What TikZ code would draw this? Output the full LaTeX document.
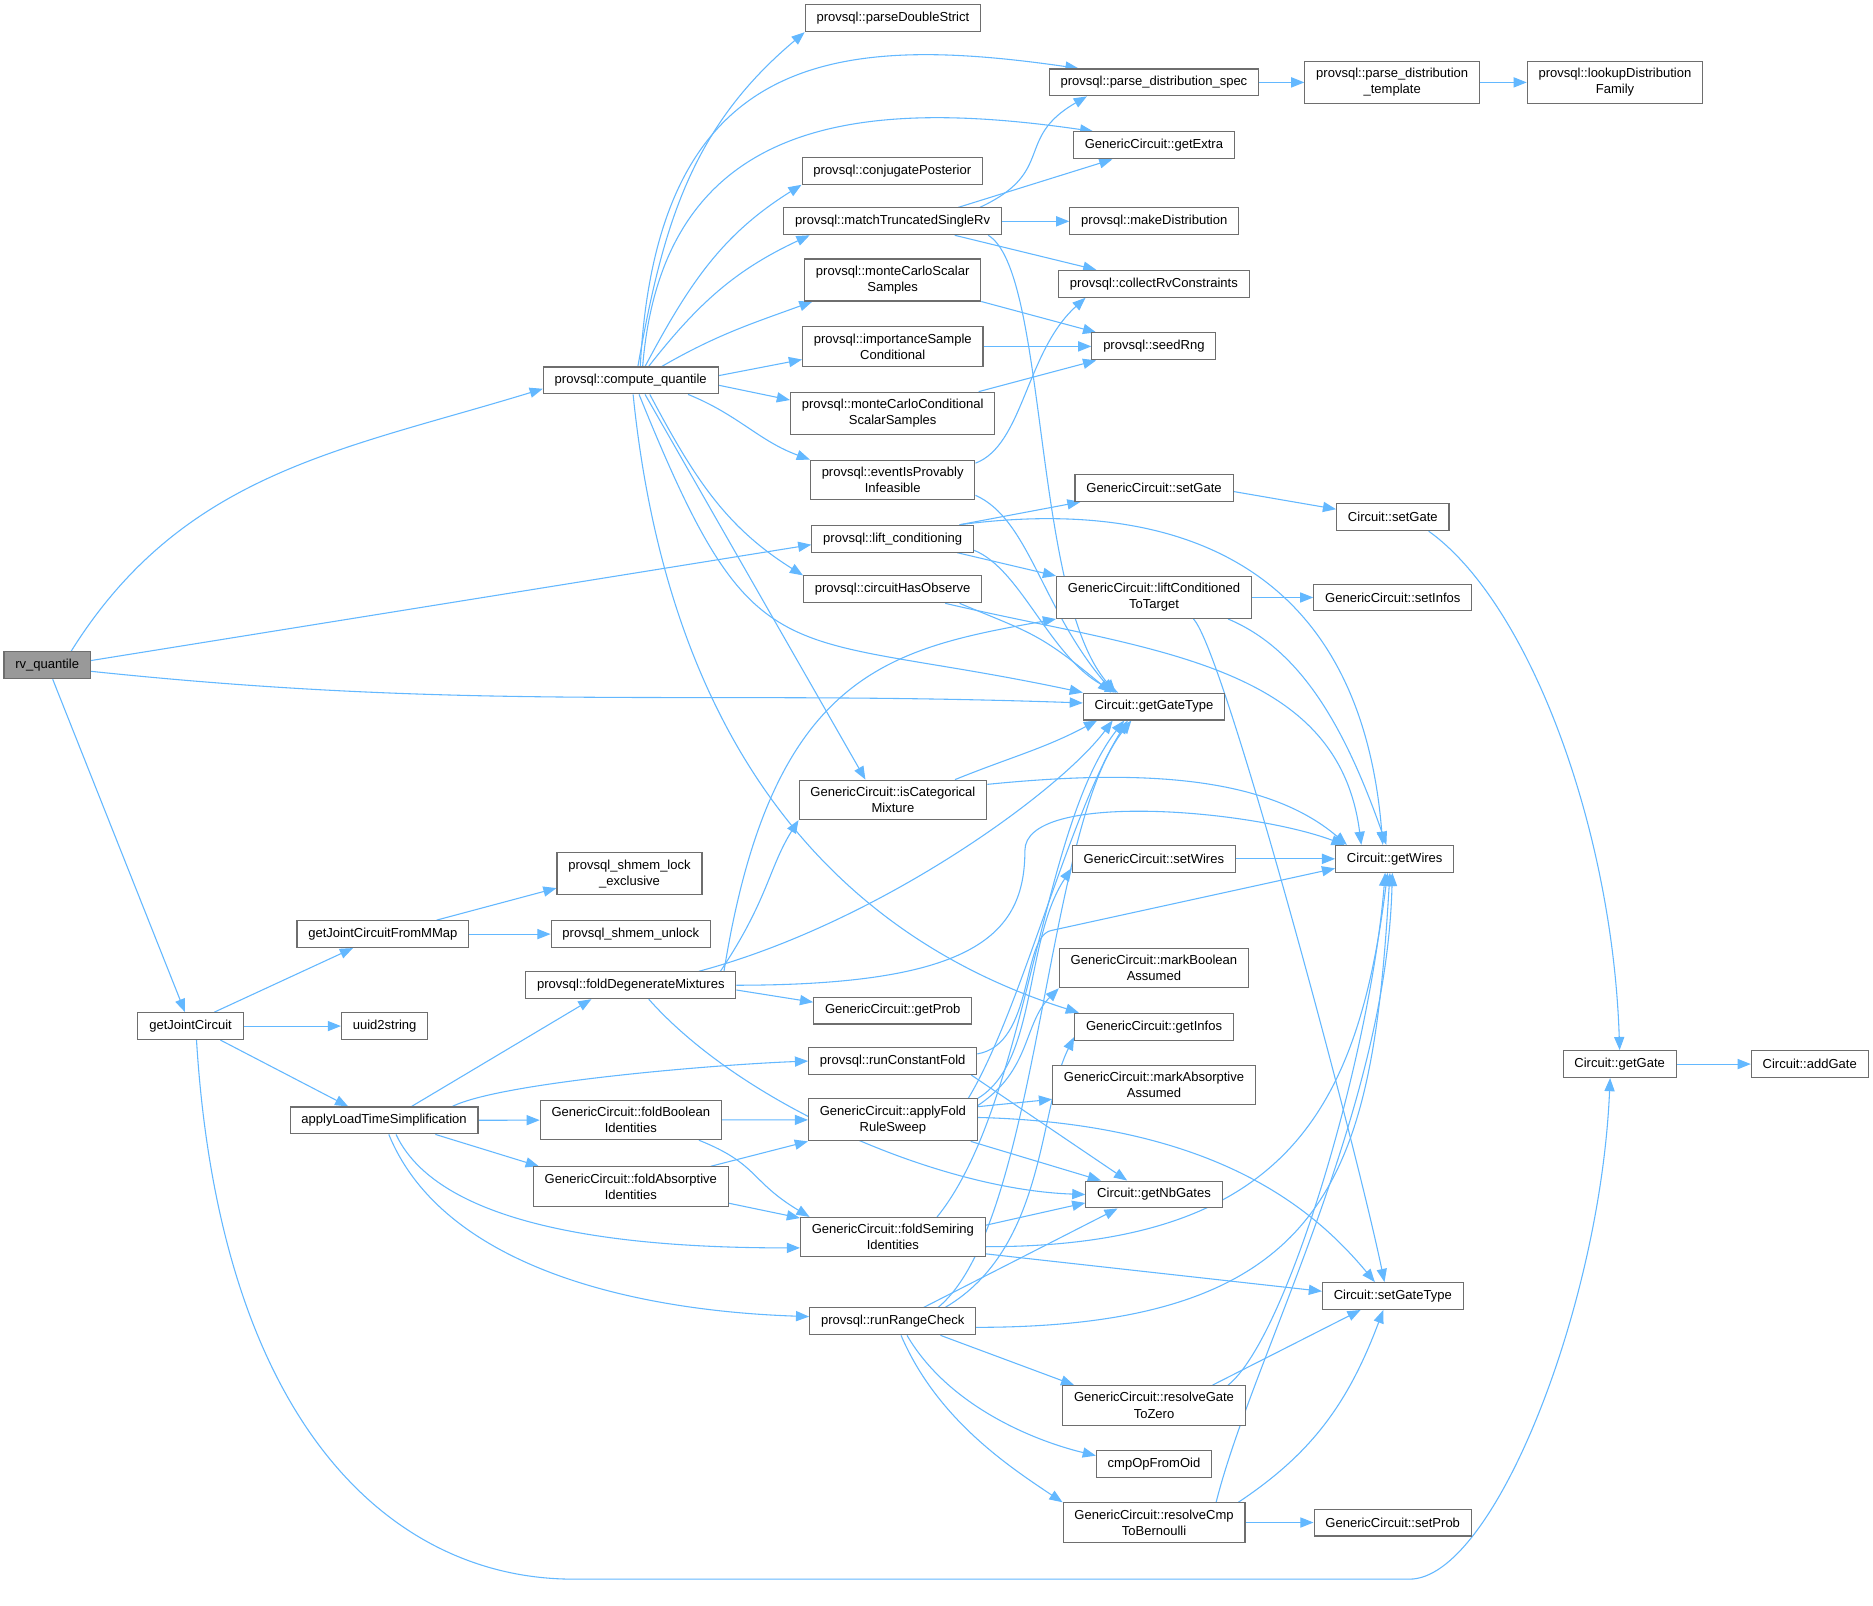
\documentclass[tikz,border=0pt]{standalone}
\usepackage{fontspec}
\setmainfont{Liberation Sans}
\usepackage{tikz}
\usetikzlibrary{arrows.meta}
\pgfdeclarelayer{bg}
\pgfsetlayers{bg,main}

\begin{document}
\begin{tikzpicture}[x=1pt,y=1pt,
    fn/.style={draw=boxgray, line width=0.9pt, fill=white,
      font=\fontsize{10.9pt}{13.4pt}\selectfont, align=center,
      inner xsep=9.5pt, inner ysep=5.8pt, minimum height=22.5pt},
    call/.style={draw=callblue, line width=0.9pt,
      -{Triangle[length=11pt,width=8.5pt]}}]
  % Define colors for the graph
  \definecolor{callblue}{RGB}{99,184,255}
  \definecolor{boxgray}{RGB}{110,110,110}
  \definecolor{rootgray}{RGB}{153,153,153}

  \useasboundingbox (0,0) rectangle (1568,1344);

  % Root function
  \node[fn, fill=rootgray] (rv) at (39.5,787) {rv\_quantile};

  % All called functions
  \foreach \nm/\cx/\cy/\lbl in {
      cq/528/1025.5/provsql::compute\_quantile,
      gjc/159.5/485/getJointCircuit,
      pds/747.5/1328.7/provsql::parseDoubleStrict,
      pspec/966/1275/provsql::parse\_distribution\_spec,
      ptmpl/1165.5/1275/provsql::parse\_distribution\\\_template,
      plook/1352/1275/provsql::lookupDistribution\\Family,
      gextra/966/1222.3/GenericCircuit::getExtra,
      conj/747/1201/provsql::conjugatePosterior,
      match/747.3/1158.7/provsql::matchTruncatedSingleRv,
      mkdist/966.3/1158.7/provsql::makeDistribution,
      mcs/747.3/1109.6/provsql::monteCarloScalar\\Samples,
      collect/966/1106.4/provsql::collectRvConstraints,
      imp/747.4/1054/provsql::importanceSample\\Conditional,
      seed/966/1054/provsql::seedRng,
      mccs/747.3/998.1/provsql::monteCarloConditional\\ScalarSamples,
      evt/747.3/942.3/provsql::eventIsProvably\\Infeasible,
      gsetg/966.1/935.5/GenericCircuit::setGate,
      csetg/1166/911/Circuit::setGate,
      lift/747.3/893/provsql::lift\_conditioning,
      liftc/966.1/843.8/GenericCircuit::liftConditioned\\ToTarget,
      sinfos/1166/843.8/GenericCircuit::setInfos,
      obs/747.3/850.6/provsql::circuitHasObserve,
      ggt/966.1/752.5/Circuit::getGateType,
      iscat/747.5/674.4/GenericCircuit::isCategorical\\Mixture,
      gwires/1167.6/625/Circuit::getWires,
      swires/966/625/GenericCircuit::setWires,
      lock/527/612.5/provsql\_shmem\_lock\\\_exclusive,
      fromm/320.5/562/getJointCircuitFromMMap,
      unlock/528.1/562/provsql\_shmem\_unlock,
      fdm/528.1/519.2/provsql::foldDegenerateMixtures,
      mbool/966/533.6/GenericCircuit::markBoolean\\Assumed,
      gprob/747.3/498/GenericCircuit::getProb,
      ginfos/966.1/484.5/GenericCircuit::getInfos,
      uuid/322/485/uuid2string,
      rcf/747.3/455.7/provsql::runConstantFold,
      cgetg/1355.9/453.2/Circuit::getGate,
      addg/1515/453.2/Circuit::addGate,
      mabs/966.1/435.7/GenericCircuit::markAbsorptive\\Assumed,
      alts/321.5/406/applyLoadTimeSimplification,
      fbool/528.1/406.4/GenericCircuit::foldBoolean\\Identities,
      afold/747.5/406.5/GenericCircuit::applyFold\\RuleSweep,
      fabs/528.1/350.7/GenericCircuit::foldAbsorptive\\Identities,
      nbg/966.1/344/Circuit::getNbGates,
      fsemi/747.5/308.3/GenericCircuit::foldSemiring\\Identities,
      sgt/1166/259/Circuit::setGateType,
      rrc/747.3/237.8/provsql::runRangeCheck,
      rzero/966.1/167.5/GenericCircuit::resolveGate\\ToZero,
      cmpop/966.1/118.4/cmpOpFromOid,
      rcmp/966.1/69.4/GenericCircuit::resolveCmp\\ToBernoulli,
      sprob/1165.9/69.4/GenericCircuit::setProb} {
    \node[fn] (\nm) at (\cx,\cy) {\lbl};
  }

  \begin{pgfonlayer}{bg}
    \fill[white] (0,0) rectangle (1568,1344);

    % Straight calls
    \foreach \a/\b in {pspec/ptmpl, ptmpl/plook, match/mkdist, imp/seed,
        liftc/sinfos, swires/gwires, fromm/unlock, gjc/uuid, alts/fbool,
        fbool/afold, rcmp/sprob, cgetg/addg, rv/gjc} {
      \draw[call] (\a) -- (\b);
    }

    % Calls from rv_quantile
    \draw[call] ([xshift=20pt]rv.north) to[out=58,in=197] ([yshift=-7pt]cq.west);
    \draw[call] ([yshift=4pt]rv.east) -- ([yshift=-5pt]lift.west);
    \draw[call] ([yshift=-5pt]rv.east) to[out=-6,in=178] ([yshift=3pt]ggt.west);

    % Calls from compute_quantile
    \draw[call] ([xshift=6pt]cq.north) to[out=80,in=220] (pds.south west);
    \draw[call] ([xshift=8pt]cq.north) .. controls +(14,264) and +(-203.5,29.4) .. ([xshift=25pt]pspec.north west);
    \draw[call] ([xshift=10pt]cq.north) .. controls +(17,209) and +(-195.6,28.5) .. ([xshift=17pt]gextra.north west);
    \draw[call] ([xshift=12pt]cq.north) to[out=62,in=212] (conj.south west);
    \draw[call] ([xshift=15pt]cq.north) to[out=52,in=205] ([xshift=22pt]match.south west);
    \draw[call] ([xshift=26pt]cq.north) to[out=30,in=200] ([xshift=7pt]mcs.south west);
    \draw[call] ([yshift=4pt]cq.east) -- ([yshift=-11pt]imp.west);
    \draw[call] ([yshift=-4pt]cq.east) -- ([yshift=11pt]mccs.west);
    \draw[call] ([xshift=48pt]cq.south) to[out=-22,in=160] (evt.north west);
    \draw[call] ([xshift=16pt]cq.south) to[out=-62,in=148] (obs.north west);
    \draw[call] ([xshift=7pt]cq.south) to[out=-68,in=168,looseness=1.5] (ggt.north west);
    \draw[call] ([xshift=12pt]cq.south) -- ([xshift=-23pt]iscat.north);
    \draw[call] ([xshift=2pt]cq.south) .. controls +(30,-295) and +(-203.4,64.2) .. ([xshift=4pt]ginfos.north west);

    % Calls from matchTruncatedSingleRv
    \draw[call] ([xshift=73pt]match.north) to[out=25,in=210,looseness=1.4] ([xshift=32pt]pspec.south west);
    \draw[call] ([xshift=55pt]match.north) -- ([xshift=33pt]gextra.south west);
    \draw[call] ([xshift=52pt]match.south) -- ([xshift=32pt]collect.north west);
    \draw[call] ([xshift=80pt]match.south) .. controls +(50,-30) and +(-70,80) .. ([xshift=-32pt]ggt.north);

    % Sampling calls
    \draw[call] (mcs.south east) -- ([xshift=4pt]seed.north west);
    \draw[call] ([xshift=72pt]mccs.north) -- ([xshift=4pt]seed.south west);
    \draw[call] ([yshift=-3pt]evt.north east) .. controls +(40,15) and +(-50,-45) .. ([xshift=23pt]collect.south west);
    \draw[call] ([yshift=4pt]evt.south east) .. controls +(45,-20) and +(-60,70) .. ([xshift=-34pt]ggt.north);

    % Calls from lift_conditioning and circuitHasObserve
    \draw[call] ([xshift=56pt]lift.north) -- ([xshift=5pt]gsetg.south west);
    \draw[call] ([xshift=56pt]lift.north) .. controls +(196.7,25.8) and +(-17.6,223.7) .. ([xshift=-10pt]gwires.north);
    \draw[call] ([xshift=54pt]lift.south) -- (liftc.north west);
    \draw[call] ([yshift=2pt]lift.south east) .. controls +(40.2,-15.9) and +(-56.1,26.2) .. ([xshift=-30pt]ggt.north);
    \draw[call] ([xshift=56pt]obs.south) .. controls +(60,-25) and +(-60,50) .. ([xshift=-36pt]ggt.north);
    \draw[call] ([xshift=44pt]obs.south) .. controls +(168.7,-39.4) and +(-19.6,153.7) .. ([xshift=-28pt]gwires.north);

    % Gate setters
    \draw[call] ([yshift=-3pt]gsetg.east) -- ([yshift=-5pt]csetg.north west);
    \draw[call] ([xshift=30pt]csetg.south) .. controls +(84,-60) and +(-6,186) .. (cgetg.north);
    \draw[call] ([xshift=62pt]liftc.south) .. controls +(60,-25) and +(-35,100) .. ([xshift=-7pt]gwires.north);
    \draw[call] ([xshift=33pt]liftc.south) .. controls +(25,-25) and +(-25,120) .. ([xshift=-7pt]sgt.north);
    \draw[call] ([xshift=52pt]iscat.north) to[out=22,in=208] ([xshift=12pt]ggt.south west);
    \draw[call] ([yshift=-4pt]iscat.north east) .. controls +(120,12) and +(-70,60) .. ([xshift=-40pt]gwires.north);

    % Calls from getJointCircuit
    \draw[call] ([xshift=20pt]gjc.north) -- ([xshift=-25pt]fromm.south);
    \draw[call] ([xshift=25pt]gjc.south) -- ([xshift=-30pt]alts.north);
    \draw[call] ([xshift=5pt]gjc.south) .. controls +(20,-325) and +(-150,0) .. (480,22)
      -- (1180,22) .. controls +(70,0) and +(-8,-192) .. ([xshift=-8pt]cgetg.south);
    \draw[call] ([xshift=45pt]fromm.north) -- ([yshift=-12pt]lock.west);

    % Calls from applyLoadTimeSimplification
    \draw[call] ([xshift=23pt]alts.north) -- ([xshift=-33pt]fdm.south);
    \draw[call] ([xshift=-22pt]alts.north east) .. controls +(40,20) and +(-80,-3) .. (rcf.west);
    \draw[call] ([xshift=43pt]alts.south) -- ([xshift=5pt]fabs.north west);
    \draw[call] ([xshift=10pt]alts.south) .. controls +(40,-85) and +(-120,0) .. ([yshift=-9pt]fsemi.west);
    \draw[call] ([xshift=4pt]alts.south) .. controls +(45,-110) and +(-150,5) .. ([yshift=4pt]rrc.west);

    % Calls from foldDegenerateMixtures
    \draw[call] ([xshift=75pt]fdm.north) .. controls +(40,60) and +(-25,-40) .. (iscat.south west);
    \draw[call] ([xshift=78pt]fdm.north) .. controls +(40,250) and +(-140,-25) .. (liftc.south west);
    \draw[call] ([xshift=57pt]fdm.north) .. controls +(150,40) and +(-45,-60) .. ([xshift=25pt]ggt.south west);
    \draw[call] (fdm.east) .. controls +(200,0) and +(0,-70) .. (858,632)
      .. controls +(0,50) and +(-80,30) .. ([xshift=-42pt]gwires.north);
    \draw[call] ([yshift=-4pt]fdm.east) -- ([yshift=7pt]gprob.west);
    \draw[call] ([xshift=15pt]fdm.south) .. controls +(80,-90) and +(-120,4) .. (nbg.west);

    % Calls from runConstantFold
    \draw[call] ([yshift=6pt]rcf.east) .. controls +(48,8) and +(-25,-5) .. (880,565) -- ([yshift=-8pt]gwires.west);
    \draw[call] ([xshift=-5pt]rcf.south east) -- ([xshift=35pt]nbg.north west);

    % Folding helpers
    \draw[call] ([xshift=57pt]fbool.south) .. controls +(50,-20) and +(-50,30) .. ([xshift=8pt]fsemi.north west);
    \draw[call] ([xshift=67pt]fabs.north) -- (afold.south west);
    \draw[call] ([yshift=-14pt]fabs.east) -- ([yshift=16pt]fsemi.west);

    % Calls from applyFoldRuleSweep
    \draw[call] ([xshift=-8pt]afold.north east) .. controls +(45,75) and +(-50,-80) .. ([xshift=-22pt]ggt.south);
    \draw[call] (afold.north east) .. controls +(50,30) and +(-40,-60) .. ([yshift=4pt]swires.south west);
    \draw[call] ([yshift=-6pt]afold.north east) .. controls +(45,30) and +(-30,-30) .. (mbool.south west);
    \draw[call] ([yshift=-7pt]afold.north east) -- ([yshift=-12pt]mabs.west);
    \draw[call] ([xshift=-6pt]afold.south east) -- ([xshift=13pt]nbg.north west);
    \draw[call] ([yshift=2pt]afold.east) .. controls +(200,-5) and +(-50,60) .. ([xshift=-15pt]sgt.north);

    % Calls from foldSemiringIdentities
    \draw[call] ([yshift=10pt]fsemi.east) -- ([yshift=-7pt]nbg.west);
    \draw[call] ([xshift=37pt]fsemi.north) .. controls +(76,94) and +(-71,-91) .. ([xshift=-25pt]ggt.south);
    \draw[call] ([yshift=-8pt]fsemi.east) .. controls +(250,0) and +(-25,-200) .. ([xshift=-6pt]gwires.south);
    \draw[call] ([yshift=-14pt]fsemi.east) -- ([yshift=4pt]sgt.west);

    % Calls from runRangeCheck
    \draw[call] ([xshift=26pt]rrc.north) -- ([xshift=27pt]nbg.south west);
    \draw[call] ([xshift=38pt]rrc.north) .. controls +(85,70) and +(-73,-91) .. ([xshift=-19pt]ggt.south);
    \draw[call] ([xshift=44pt]rrc.north) .. controls +(85,50) and +(-30,-60) .. ([yshift=3pt]ginfos.south west);
    \draw[call] ([yshift=-5pt]rrc.east) .. controls +(300,0) and +(-15,-250) .. ([xshift=-4pt]gwires.south);
    \draw[call] ([xshift=40pt]rrc.south) -- ([xshift=10pt]rzero.north west);
    \draw[call] ([xshift=12pt]rrc.south) .. controls +(35,-60) and +(-50,12) .. ([yshift=7pt]cmpop.west);
    \draw[call] ([xshift=7pt]rrc.south) .. controls +(30,-70) and +(-45,30) .. (rcmp.north west);

    % Gate resolution
    \draw[call] ([xshift=49pt]rzero.north) -- ([xshift=-27pt]sgt.south);
    \draw[call] ([xshift=62pt]rzero.north) .. controls +(50,40) and +(-12,-150) .. ([xshift=-8pt]gwires.south);
    \draw[call] ([xshift=-6pt]rcmp.north east) .. controls +(60,40) and +(-30,-80) .. ([xshift=-8pt]sgt.south);
    \draw[call] ([xshift=52pt]rcmp.north) .. controls +(30,120) and +(-5,-200) .. ([xshift=-2pt]gwires.south);
  \end{pgfonlayer}
\end{tikzpicture}
\end{document}
